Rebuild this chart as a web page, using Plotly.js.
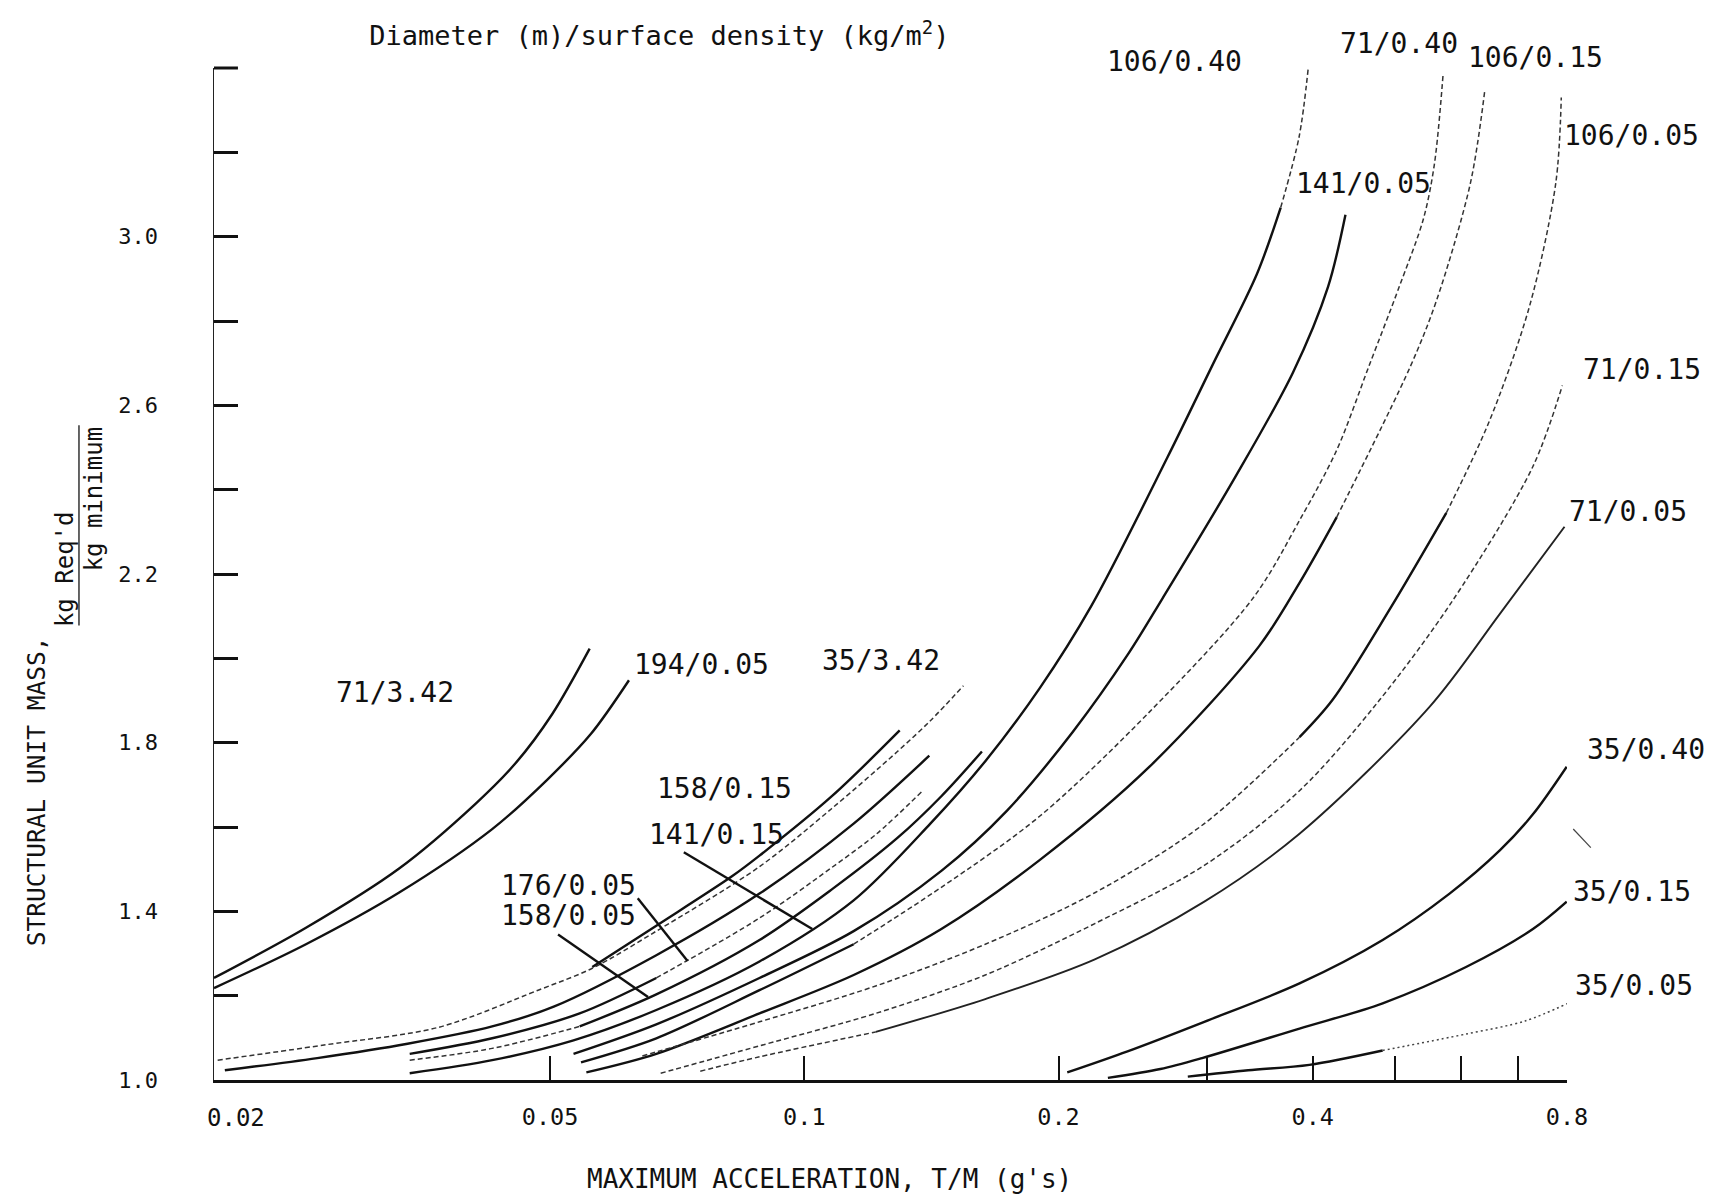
<!DOCTYPE html>
<html><head><meta charset="utf-8">
<script src="https://cdn.plot.ly/plotly-3.0.1.min.js"></script>
<style>html,body{margin:0;padding:0;background:#fff}</style>
</head><body><div id="chart" style="width:1717px;height:1197px"></div>
<script>
// ---------------- data ----------------
// x: maximum acceleration T/M (g's), y: structural unit mass ratio (kg req'd / kg minimum)
const x_71_342  = [0.0200,0.0257,0.0331,0.0408,0.0455,0.0503,0.0557];
const y_71_342  = [1.242,1.361,1.501,1.655,1.751,1.868,2.023];
const x_194_005 = [0.0200,0.0257,0.0331,0.0427,0.0496,0.0559,0.0620];
const y_194_005 = [1.218,1.322,1.444,1.595,1.712,1.821,1.948];
const x_35_342  = [0.0202,0.0270,0.0369,0.0484,0.0561,0.0668,0.0885,0.1078,0.1289,0.1410,0.1543];
const y_35_342  = [1.047,1.083,1.125,1.213,1.265,1.353,1.506,1.644,1.779,1.852,1.935];
const x_158_015 = [0.0561,0.0668,0.0821,0.0885,0.1078,0.1297];
const y_158_015 = [1.268,1.366,1.483,1.532,1.673,1.829];
const x_141_015 = [0.0206,0.0265,0.0339,0.0427,0.0505,0.0668,0.0885,0.1144,0.1406];
const y_141_015 = [1.023,1.052,1.086,1.127,1.174,1.296,1.442,1.608,1.769];
const x_176_005 = [0.0341,0.0427,0.0542,0.0668,0.0885,0.1078,0.1215,0.1381];
const y_176_005 = [1.062,1.099,1.158,1.242,1.384,1.504,1.582,1.686];
const x_158_005 = [0.0341,0.0427,0.0542,0.0668,0.0885,0.1078,0.1289,0.1453,0.1623];
const y_158_005 = [1.047,1.075,1.127,1.203,1.332,1.452,1.574,1.673,1.779];
const x_106_040 = [0.0341,0.0427,0.0533,0.0668,0.0885,0.1144,0.1410,0.1638,0.1901,0.2188,0.2689,0.3039,0.3436,0.3665,0.3854,0.3951];
const y_106_040 = [1.016,1.047,1.094,1.166,1.281,1.426,1.608,1.756,1.930,2.125,2.475,2.693,2.912,3.069,3.237,3.400];
const x_141_005 = [0.0533,0.0668,0.0885,0.1144,0.1453,0.1738,0.2080,0.2414,0.2657,0.3236,0.3790,0.4170,0.4373];
const y_141_005 = [1.062,1.132,1.242,1.353,1.496,1.639,1.826,2.008,2.143,2.429,2.678,2.881,3.052];
const x_71_040  = [0.0544,0.0668,0.0885,0.1144,0.1453,0.1901,0.2563,0.3405,0.3858,0.4270,0.4658,0.5063,0.5408,0.5572,0.5706];
const y_71_040  = [1.042,1.099,1.213,1.322,1.457,1.626,1.873,2.145,2.327,2.494,2.691,2.881,3.042,3.171,3.384];
const x_106_015 = [0.0552,0.0668,0.0885,0.1144,0.1453,0.1901,0.2563,0.3456,0.3858,0.4270,0.5216,0.5606,0.6148,0.6392];
const y_106_015 = [1.018,1.062,1.158,1.249,1.358,1.522,1.743,2.029,2.179,2.335,2.691,2.849,3.127,3.345];
const x_106_005 = [0.0643,0.0885,0.1215,0.1638,0.2208,0.2976,0.3858,0.4220,0.4943,0.5757,0.6469,0.7225,0.7759,0.7876];
const y_106_005 = [1.057,1.138,1.223,1.322,1.444,1.608,1.813,1.901,2.119,2.345,2.561,2.836,3.127,3.330];
const x_71_015  = [0.0676,0.0885,0.1215,0.1638,0.2208,0.2976,0.3858,0.4798,0.5862,0.7290,0.7899];
const y_71_015  = [1.016,1.081,1.158,1.249,1.371,1.509,1.686,1.901,2.138,2.455,2.647];
const x_71_005  = [0.0753,0.0885,0.1215,0.1638,0.2208,0.2976,0.3858,0.5506,0.6665,0.7946];
const y_71_005  = [1.021,1.055,1.114,1.192,1.286,1.423,1.584,1.886,2.106,2.312];
const x_35_040  = [0.2048,0.2414,0.2976,0.3858,0.4840,0.5808,0.6665,0.7290,0.7994];
const y_35_040  = [1.018,1.068,1.138,1.229,1.332,1.442,1.545,1.630,1.743];
const x_35_015  = [0.2288,0.2640,0.2958,0.3858,0.4840,0.6075,0.7290,0.7994];
const y_35_015  = [1.005,1.026,1.052,1.122,1.182,1.268,1.358,1.423];
const x_35_005  = [0.2845,0.3354,0.3963,0.4840,0.6075,0.7138,0.8000];
const y_35_005  = [1.008,1.023,1.036,1.070,1.109,1.140,1.181];

// leader lines from labels to curves
const lead_141_015_x = [0.0720,0.1022]; const lead_141_015_y = [1.540,1.358];
const lead_176_005_x = [0.0635,0.0727]; const lead_176_005_y = [1.431,1.283];
const lead_158_005_x = [0.0511,0.0653]; const lead_158_005_y = [1.345,1.197];

// curve labels: text, x (g's), y
const labelText = ['71/3.42','194/0.05','35/3.42','158/0.15','141/0.15','176/0.05','158/0.05',
  '106/0.40','71/0.40','106/0.15','106/0.05','141/0.05','71/0.15','71/0.05','35/0.40','35/0.15','35/0.05'];
const labelX = [0.0328,0.0756,0.1231,0.0805,0.0787,0.0526,0.0526,
  0.2746,0.5056,0.7349,0.9546,0.4596,0.981,0.944,0.992,0.9546,0.960];
const labelY = [1.920,1.986,1.996,1.692,1.583,1.462,1.391,
  3.416,3.457,3.426,3.241,3.125,2.684,2.349,1.783,1.448,1.225];

// axis ticks
const xTickVals  = [0.05,0.1,0.2,0.4,0.8];
const xTickText  = ['0.05','0.1','0.2','0.4','0.8'];
const xMinorVals = [0.3,0.5,0.6,0.7];
const yTickVals  = [1.0,1.4,1.8,2.2,2.6,3.0];
const yTickText  = ['1.0','1.4','1.8','2.2','2.6','3.0'];
const yMinorVals = [1.2,1.6,2.0,2.4,2.8,3.2];

// ---------------- styles ----------------
const MONO = 'DejaVu Sans Mono, Liberation Mono, monospace';
const X0 = 0.02, X1 = 0.8, Y0 = 1.0, Y1 = 3.4;
const ST = {
  solid: {color:'#111', width:2.4},
  thin:  {color:'#222', width:1.9},
  dash:  {color:'#333', width:1.5, dash:'5px,3px'},
  dot:   {color:'#444', width:1.5, dash:'2px,3px'}
};
// segments: [fromIndex, toIndex, style]
const curves = [
  {n:'71/3.42',  x:x_71_342,  y:y_71_342,  s:[[0,6,'solid']]},
  {n:'194/0.05', x:x_194_005, y:y_194_005, s:[[0,6,'solid']]},
  {n:'35/3.42',  x:x_35_342,  y:y_35_342,  s:[[0,10,'dash']]},
  {n:'158/0.15', x:x_158_015, y:y_158_015, s:[[0,5,'solid']]},
  {n:'141/0.15', x:x_141_015, y:y_141_015, s:[[0,8,'solid']]},
  {n:'176/0.05', x:x_176_005, y:y_176_005, s:[[0,3,'solid'],[3,7,'dash']]},
  {n:'158/0.05', x:x_158_005, y:y_158_005, s:[[0,2,'dash'],[2,8,'solid']]},
  {n:'106/0.40', x:x_106_040, y:y_106_040, s:[[0,13,'solid'],[13,15,'dash']]},
  {n:'141/0.05', x:x_141_005, y:y_141_005, s:[[0,12,'solid']]},
  {n:'71/0.40',  x:x_71_040,  y:y_71_040,  s:[[0,3,'solid'],[3,14,'dash']]},
  {n:'106/0.15', x:x_106_015, y:y_106_015, s:[[0,9,'solid'],[9,13,'dash']]},
  {n:'106/0.05', x:x_106_005, y:y_106_005, s:[[0,6,'dash'],[6,9,'solid'],[9,13,'dash']]},
  {n:'71/0.15',  x:x_71_015,  y:y_71_015,  s:[[0,10,'dash']]},
  {n:'71/0.05',  x:x_71_005,  y:y_71_005,  s:[[0,2,'dash'],[2,9,'thin']]},
  {n:'35/0.40',  x:x_35_040,  y:y_35_040,  s:[[0,8,'solid']]},
  {n:'35/0.15',  x:x_35_015,  y:y_35_015,  s:[[0,7,'solid']]},
  {n:'35/0.05',  x:x_35_005,  y:y_35_005,  s:[[0,3,'solid'],[3,6,'dot']]}
];

const traces = [];
curves.forEach(c => {
  c.s.forEach(seg => {
    traces.push({
      type:'scatter', mode:'lines', name:c.n, showlegend:false, hoverinfo:'skip',
      x:c.x.slice(seg[0], seg[1]+1), y:c.y.slice(seg[0], seg[1]+1),
      line:Object.assign({shape:'spline', smoothing:0.9}, ST[seg[2]])
    });
  });
});
[[lead_141_015_x,lead_141_015_y],[lead_176_005_x,lead_176_005_y],[lead_158_005_x,lead_158_005_y]].forEach(l => {
  traces.push({type:'scatter', mode:'lines', showlegend:false, hoverinfo:'skip',
    x:l[0], y:l[1], line:{color:'#111', width:2.4}});
});

// label positions in paper units (many sit outside the axis ranges)
const px = v => (Math.log10(v) - Math.log10(X0)) / (Math.log10(X1) - Math.log10(X0));
const py = v => (v - Y0) / (Y1 - Y0);
const annotations = labelText.map((t,i) => ({
  text:t, x:px(labelX[i]), y:py(labelY[i]), xref:'paper', yref:'paper',
  showarrow:false, xanchor:'center', yanchor:'middle',
  font:{family:MONO, size:28, color:'#111'}
}));
// 0.02 tick label (left-aligned at the axis corner)
annotations.push({text:'0.02', x:0, y:0, xref:'paper', yref:'paper',
  xanchor:'left', yanchor:'top', xshift:-9, yshift:-22, showarrow:false,
  font:{family:MONO, size:24, color:'#111'}});
// axis titles
annotations.push({text:'MAXIMUM ACCELERATION, T/M (g\'s)', x:0.455, y:-0.098, xref:'paper', yref:'paper',
  xanchor:'center', yanchor:'middle', showarrow:false, font:{family:MONO, size:26, color:'#111'}});
annotations.push({text:'STRUCTURAL UNIT MASS,', x:-0.131, y:0.285, xref:'paper', yref:'paper',
  textangle:-90, xanchor:'center', yanchor:'middle', showarrow:false, font:{family:MONO, size:24.5, color:'#111'}});
annotations.push({text:'kg Req\'d', x:-0.110, y:0.505, xref:'paper', yref:'paper',
  textangle:-90, xanchor:'center', yanchor:'middle', showarrow:false, font:{family:MONO, size:24, color:'#111'}});
annotations.push({text:'kg minimum', x:-0.0885, y:0.574, xref:'paper', yref:'paper',
  textangle:-90, xanchor:'center', yanchor:'middle', showarrow:false, font:{family:MONO, size:24, color:'#111'}});

const layout = {
  width:1717, height:1197,
  margin:{l:214, r:150, t:68, b:117},
  paper_bgcolor:'#fff', plot_bgcolor:'#fff',
  showlegend:false,
  title:{text:'Diameter (m)/surface density (kg/m<sup>2</sup>)', x:0.384, xref:'container', xanchor:'center',
         y:0.970, yref:'container', yanchor:'middle', font:{family:MONO, size:27, color:'#111'}},
  xaxis:{type:'log', range:[Math.log10(X0), Math.log10(X1)], showgrid:false, zeroline:false,
         showline:true, linecolor:'#111', linewidth:3, ticks:'inside', ticklen:24, tickwidth:2, tickcolor:'#111',
         tickvals:xTickVals, ticktext:xTickText, ticklabelstandoff:14,
         minor:{tickvals:xMinorVals, ticks:'inside', ticklen:24, tickwidth:2, tickcolor:'#111', showgrid:false},
         tickfont:{family:MONO, size:23.5, color:'#111'}},
  yaxis:{range:[Y0, Y1], showgrid:false, zeroline:false,
         showline:true, linecolor:'#222', linewidth:1.5, ticks:'inside', ticklen:24, tickwidth:3, tickcolor:'#111',
         tickvals:yTickVals, ticktext:yTickText, ticklabelstandoff:50,
         minor:{tickvals:yMinorVals, ticks:'inside', ticklen:24, tickwidth:3, tickcolor:'#111', showgrid:false},
         tickfont:{family:MONO, size:22, color:'#111'}},
  shapes:[
    // top corner tick of the y axis (3.4)
    {type:'line', xref:'paper', yref:'paper', x0:0, x1:0.0177, y0:1, y1:1, line:{color:'#111', width:3}},
    // fraction bar of the y-axis unit
    {type:'line', xref:'paper', yref:'paper', x0:-0.0998, x1:-0.0998, y0:0.449, y1:0.647, line:{color:'#333', width:1.5}},
    // small stray stroke beside 35/0.40
    {type:'line', xref:'paper', yref:'paper', x0:1.0046, x1:1.0176, y0:0.248, y1:0.2297, line:{color:'#444', width:1.2}}
  ],
  annotations:annotations
};

Plotly.newPlot('chart', traces, layout, {displayModeBar:false, staticPlot:true});
</script></body></html>
